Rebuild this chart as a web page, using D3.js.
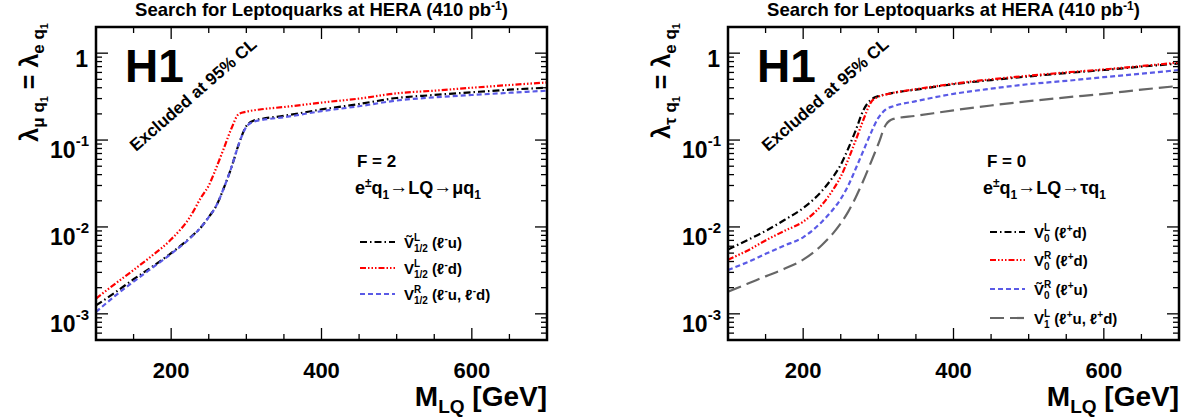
<!DOCTYPE html>
<html>
<head>
<meta charset="utf-8">
<script src="https://cdn.jsdelivr.net/npm/d3@7"></script>
<style>
  body { margin: 0; background: #fff; }
  svg text { font-family: "Liberation Sans", Arial, sans-serif; font-weight: bold; fill: #000; white-space: pre; }
</style>
</head>
<body>
<svg id="chart" width="1201" height="419"></svg>
<script>
// mass grid (GeV) shared by all curves
var mass = [100, 125, 150, 175, 200, 225, 240, 250, 260, 270, 280, 290, 300, 310, 320, 350, 400, 450, 500, 550, 600, 650, 700];

// left panel, F = 2, e q -> LQ -> mu q
var vTildeL12 = [1.25e-3, 1.75e-3, 2.5e-3, 3.5e-3, 5.0e-3, 7.5e-3, 1.0e-2, 1.3e-2, 1.75e-2, 2.8e-2, 4.8e-2, 9.0e-2, 0.145, 0.168, 0.175, 0.19, 0.225, 0.26, 0.305, 0.33, 0.355, 0.38, 0.40];
var vL12 = [1.5e-3, 2.2e-3, 3.2e-3, 4.7e-3, 7.2e-3, 1.3e-2, 2.2e-2, 3.0e-2, 4.8e-2, 8.0e-2, 0.135, 0.2, 0.212, 0.22, 0.226, 0.24, 0.27, 0.30, 0.345, 0.37, 0.40, 0.43, 0.46];
var vR12 = [1.05e-3, 1.6e-3, 2.35e-3, 3.4e-3, 4.9e-3, 7.4e-3, 1.0e-2, 1.3e-2, 1.75e-2, 2.8e-2, 4.8e-2, 9.0e-2, 0.142, 0.163, 0.17, 0.183, 0.215, 0.245, 0.285, 0.31, 0.33, 0.35, 0.37];

// right panel, F = 0, e q -> LQ -> tau q
var v0L = [5.5e-3, 7.0e-3, 9.0e-3, 1.2e-2, 1.65e-2, 2.6e-2, 3.8e-2, 5.2e-2, 8.0e-2, 0.13, 0.22, 0.29, 0.32, 0.335, 0.35, 0.38, 0.44, 0.49, 0.54, 0.59, 0.64, 0.70, 0.76];
var v0R = [4.2e-3, 5.3e-3, 7.0e-3, 9.0e-3, 1.15e-2, 1.8e-2, 2.7e-2, 3.8e-2, 6.0e-2, 0.10, 0.17, 0.27, 0.315, 0.335, 0.35, 0.385, 0.445, 0.50, 0.55, 0.60, 0.65, 0.71, 0.78];
var vTilde0R = [3.2e-3, 3.9e-3, 4.9e-3, 6.1e-3, 7.6e-3, 1.15e-2, 1.6e-2, 2.1e-2, 3.0e-2, 4.7e-2, 7.5e-2, 0.12, 0.18, 0.225, 0.245, 0.28, 0.34, 0.39, 0.44, 0.48, 0.53, 0.58, 0.64];
var v1L = [1.8e-3, 2.2e-3, 2.7e-3, 3.3e-3, 4.2e-3, 6.2e-3, 8.5e-3, 1.1e-2, 1.5e-2, 2.2e-2, 3.4e-2, 5.5e-2, 9.0e-2, 0.15, 0.175, 0.19, 0.22, 0.25, 0.28, 0.31, 0.34, 0.38, 0.42];

var xTickVals = [150, 200, 250, 300, 350, 400, 450, 500, 550, 600, 650];
var xTickLabels = [200, 400, 600];
var yDecades = [1e-3, 1e-2, 1e-1, 1];

var svg = d3.select("#chart");

/**
 * Draw a run of text pieces (sizes and baseline shifts), anchored at x,y.
 * A piece with "stack" puts a superscript above a subscript.
 */
function rich(parent, x, y, parts, anchor) {
    var g = parent.append("g");
    var cx = 0;
    parts.forEach(function (p) {
        if (p.stack) {
            var w = 0;
            p.stack.forEach(function (s) {
                var t = g.append("text").attr("x", cx).attr("y", s.dy)
                    .style("font-size", s.size + "px").text(s.text);
                w = Math.max(w, t.node().getComputedTextLength());
            });
            cx += w;
        } else {
            var t = g.append("text").attr("x", cx).attr("y", p.dy || 0)
                .style("font-size", p.size + "px").text(p.text);
            cx += t.node().getComputedTextLength();
        }
    });
    var off = anchor === "end" ? -cx : (anchor === "middle" ? -cx / 2 : 0);
    g.attr("transform", "translate(" + (x + off) + "," + y + ")");
    return g;
}

var styles = {
    black: { color: "#000", dash: "7,3,1.5,3", width: 2.2 },
    red: { color: "#ff0000", dash: "6,2,1.5,2,1.5,2,1.5,2", width: 2.2 },
    blue: { color: "#5a5ae6", dash: "5,3", width: 2.2 },
    gray: { color: "#666", dash: "14,6", width: 2.2 }
};

// V with sup/sub stacked, then "(l^s q" pieces
function legendLabel(tilde, sup, sub, leptons) {
    var parts = [
        { text: tilde ? "V\u0303" : "V", size: 15 },
        { stack: [{ text: sup, size: 10, dy: -7 }, { text: sub, size: 10, dy: 4 }] },
        { text: " (", size: 15 }
    ];
    leptons.forEach(function (l, i) {
        parts.push({ text: (i > 0 ? ", " : "") + "\u2113", size: 15 });
        parts.push({ text: l[0], size: 10, dy: -6 });
        parts.push({ text: l[1], size: 15 });
    });
    parts.push({ text: ")", size: 15 });
    return parts;
}

function drawPanel(cfg) {
    var x = d3.scaleLinear().domain([100, 700]).range([cfg.x0, cfg.x1]);
    var y = d3.scaleLog().domain([5e-4, 2]).range([cfg.y1, cfg.y0]);

    var line = d3.line()
        .x(function (d) { return x(d[0]); })
        .y(function (d) { return y(d[1]); })
        .curve(d3.curveMonotoneX);

    var clipId = "clip" + cfg.id;
    svg.append("defs").append("clipPath").attr("id", clipId)
        .append("rect").attr("x", cfg.x0).attr("y", cfg.y0)
        .attr("width", cfg.x1 - cfg.x0).attr("height", cfg.y1 - cfg.y0);

    var curves = svg.append("g").attr("clip-path", "url(#" + clipId + ")");
    cfg.series.forEach(function (s) {
        var st = styles[s.style];
        curves.append("path")
            .datum(mass.map(function (m, i) { return [m, s.values[i]]; }))
            .attr("fill", "none")
            .attr("stroke", st.color)
            .attr("stroke-width", st.width)
            .attr("stroke-dasharray", st.dash)
            .attr("d", line);
    });

    // ticks, ROOT style: inside the frame, on all four sides
    var ticks = svg.append("g").attr("stroke", "#000").attr("stroke-width", 1.3);
    xTickVals.forEach(function (v) {
        var len = xTickLabels.indexOf(v) >= 0 ? 12 : 6;
        ticks.append("line").attr("x1", x(v)).attr("x2", x(v)).attr("y1", cfg.y1).attr("y2", cfg.y1 - len);
        ticks.append("line").attr("x1", x(v)).attr("x2", x(v)).attr("y1", cfg.y0).attr("y2", cfg.y0 + len);
    });
    [1e-4, 1e-3, 1e-2, 1e-1, 1].forEach(function (d) {
        for (var k = 1; k <= 9; k++) {
            var v = k * d;
            if (v < 5e-4 || v > 2) continue;
            var len = k === 1 ? 12 : 6;
            ticks.append("line").attr("x1", cfg.x0).attr("x2", cfg.x0 + len).attr("y1", y(v)).attr("y2", y(v));
            ticks.append("line").attr("x1", cfg.x1).attr("x2", cfg.x1 - len).attr("y1", y(v)).attr("y2", y(v));
        }
    });

    svg.append("rect")
        .attr("x", cfg.x0).attr("y", cfg.y0)
        .attr("width", cfg.x1 - cfg.x0).attr("height", cfg.y1 - cfg.y0)
        .attr("fill", "none").attr("stroke", "#000").attr("stroke-width", 2.5);

    // tick labels
    xTickLabels.forEach(function (v) {
        svg.append("text").attr("x", x(v)).attr("y", cfg.y1 + 38)
            .attr("text-anchor", "middle").style("font-size", "22px").text(v);
    });
    yDecades.forEach(function (v) {
        if (v === 1) {
            svg.append("text").attr("x", cfg.x0 - 8).attr("y", y(v) + 14)
                .attr("text-anchor", "end").style("font-size", "23px").text("1");
        } else {
            rich(svg, cfg.x0 - 7, y(v) + 18, [
                { text: "10", size: 23 },
                { text: String(Math.round(Math.log10(v))), size: 15, dy: -12 }
            ], "end");
        }
    });

    // axis titles
    rich(svg, cfg.x1, cfg.y1 + 66, [
        { text: "M", size: 28 }, { text: "LQ", size: 19, dy: 7 }, { text: " [GeV]", size: 28 }
    ], "end");

    var ylab = svg.append("g").attr("transform", "translate(" + cfg.ylabX + "," + (cfg.y0 - 4) + ") rotate(-90)");
    rich(ylab, 0, 0, [
        { text: "\u03bb", size: 25 }, { text: cfg.lepton + " q", size: 17, dy: 6 }, { text: "1", size: 11, dy: 10 },
        { text: " = \u03bb", size: 25 }, { text: "e q", size: 17, dy: 6 }, { text: "1", size: 11, dy: 10 }
    ], "end");

    var title = svg.append("text").attr("x", (cfg.x0 + cfg.x1) / 2).attr("y", 16)
        .attr("text-anchor", "middle").style("font-size", "18.5px");
    title.append("tspan").text("Search for Leptoquarks at HERA (410 pb");
    title.append("tspan").attr("dy", -6).style("font-size", "12px").text("-1");
    title.append("tspan").attr("dy", 6).text(")");

    // labels inside the frame
    svg.append("text").attr("x", cfg.x0 + 29).attr("y", 82).style("font-size", "46px").text("H1");
    svg.append("text")
        .attr("transform", "translate(" + (cfg.x0 + 40) + ",152) rotate(-41)")
        .style("font-size", "17px").text("Excluded at 95% CL");
    svg.append("text").attr("x", cfg.fX).attr("y", 167).style("font-size", "17px").text(cfg.fText);
    rich(svg, cfg.procX, 194, [
        { text: "e", size: 18 }, { text: "\u00b1", size: 12, dy: -7 }, { text: "q", size: 18 }, { text: "1", size: 12, dy: 5 },
        { text: "\u2192", size: 19, dy: -1 }, { text: "LQ", size: 18 }, { text: "\u2192", size: 19, dy: -1 },
        { text: cfg.lepton + "q", size: 18 }, { text: "1", size: 12, dy: 5 }
    ], "start");

    // legend
    cfg.series.forEach(function (s, i) {
        var st = styles[s.style];
        var ly = cfg.legY[i];
        svg.append("line")
            .attr("x1", cfg.legX).attr("x2", cfg.legX + 35).attr("y1", ly).attr("y2", ly)
            .attr("stroke", st.color).attr("stroke-width", st.width).attr("stroke-dasharray", st.dash);
        rich(svg, cfg.legX + 44, ly + 6, s.label, "start");
    });
}

drawPanel({
    id: "L", x0: 96, x1: 547, y0: 27, y1: 340, ylabX: 38, lepton: "\u03bc",
    fText: "F = 2", fX: 357, procX: 355, legX: 360, legY: [242, 268, 294],
    series: [
        { style: "black", values: vTildeL12, label: legendLabel(true, "L", "1/2", [["-", "u"]]) },
        { style: "red", values: vL12, label: legendLabel(false, "L", "1/2", [["-", "d"]]) },
        { style: "blue", values: vR12, label: legendLabel(false, "R", "1/2", [["-", "u"], ["-", "d"]]) }
    ]
});

drawPanel({
    id: "R", x0: 728, x1: 1179, y0: 27, y1: 340, ylabX: 670, lepton: "\u03c4",
    fText: "F = 0", fX: 987, procX: 983, legX: 990, legY: [232, 260, 289, 318],
    series: [
        { style: "black", values: v0L, label: legendLabel(false, "L", "0", [["+", "d"]]) },
        { style: "red", values: v0R, label: legendLabel(false, "R", "0", [["+", "d"]]) },
        { style: "blue", values: vTilde0R, label: legendLabel(true, "R", "0", [["+", "u"]]) },
        { style: "gray", values: v1L, label: legendLabel(false, "L", "1", [["+", "u"], ["+", "d"]]) }
    ]
});
</script>
</body>
</html>
